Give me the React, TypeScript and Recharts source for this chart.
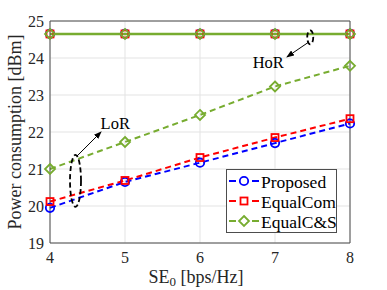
import React from 'react';
import {
  LineChart,
  Line,
  XAxis,
  YAxis,
  CartesianGrid,
  ReferenceLine,
  ReferenceDot,
} from 'recharts';

const seValues = [4, 5, 6, 7, 8];
const proposedLoR = [19.95, 20.65, 21.17, 21.7, 22.23];
const equalComLoR = [20.12, 20.69, 21.31, 21.85, 22.36];
const equalCSLoR = [21.0, 21.73, 22.46, 23.23, 23.79];
const proposedHoR = [24.65, 24.65, 24.65, 24.65, 24.65];
const equalComHoR = [24.65, 24.65, 24.65, 24.65, 24.65];
const equalCSHoR = [24.65, 24.65, 24.65, 24.65, 24.65];
const yTicks = [19, 20, 21, 22, 23, 24, 25];

const seriesNames = ['Proposed', 'EqualCom', 'EqualC&S'];

const BLUE = '#0000ff';
const RED = '#ff0000';
const GREEN = '#77ac30';
const FONT = '"Liberation Serif", "Times New Roman", serif';
const AXIS = '#4d4d4d';

// table for recharts
const chartData = seValues.map((se, i) => ({
  se,
  proposedLoR: proposedLoR[i],
  equalComLoR: equalComLoR[i],
  equalCSLoR: equalCSLoR[i],
  proposedHoR: proposedHoR[i],
  equalComHoR: equalComHoR[i],
  equalCSHoR: equalCSHoR[i],
}));

type Kind = 'circle' | 'square' | 'diamond';

const Marker = ({ cx, cy, kind, color }: { cx: number; cy: number; kind: Kind; color: string }) => {
  if (kind === 'circle') {
    return <circle cx={cx} cy={cy} r={4.2} fill="none" stroke={color} strokeWidth={1.8} />;
  }
  if (kind === 'square') {
    return <rect x={cx - 3.5} y={cy - 3.5} width={7} height={7} fill="none" stroke={color} strokeWidth={1.8} />;
  }
  return (
    <polygon
      points={`${cx},${cy - 5} ${cx + 5},${cy} ${cx},${cy + 5} ${cx - 5},${cy}`}
      fill="none"
      stroke={color}
      strokeWidth={1.8}
    />
  );
};

const makeDot = (kind: Kind, color: string) => (props: any) => (
  <Marker key={`${kind}-${props.index}-${props.cx}`} cx={props.cx} cy={props.cy} kind={kind} color={color} />
);

const ArrowShape = (props: any) => {
  const { x1, y1, x2, y2 } = props;
  return (
    <line x1={x1} y1={y1} x2={x2} y2={y2} stroke="#000" strokeWidth={1} markerEnd="url(#arrowHead)" />
  );
};

const EllipseShape = (rx: number, ry: number) => (props: any) => (
  <ellipse
    cx={props.cx}
    cy={props.cy}
    rx={rx}
    ry={ry}
    fill="none"
    stroke="#000"
    strokeWidth={1.8}
    strokeDasharray="5 3"
  />
);

const TextShape = (text: string) => (props: any) => (
  <text
    x={props.cx}
    y={props.cy}
    textAnchor="middle"
    dominantBaseline="central"
    fontFamily={FONT}
    fontSize={16.5}
    fill="#000"
  >
    {text}
  </text>
);

const legendItems: { name: string; kind: Kind; color: string }[] = [
  { name: seriesNames[0], kind: 'circle', color: BLUE },
  { name: seriesNames[1], kind: 'square', color: RED },
  { name: seriesNames[2], kind: 'diamond', color: GREEN },
];

const LegendBox = () => (
  <div
    style={{
      position: 'absolute',
      left: 226,
      top: 169,
      width: 111,
      height: 64,
      background: '#fff',
      border: `1px solid ${AXIS}`,
      boxSizing: 'border-box',
    }}
  >
    <svg width={109} height={62} style={{ display: 'block' }}>
      {legendItems.map((item, i) => {
        const y = 11 + i * 20;
        return (
          <g key={item.name}>
            <line x1={2} y1={y} x2={9} y2={y} stroke={item.color} strokeWidth={2} />
            <line x1={25} y1={y} x2={32} y2={y} stroke={item.color} strokeWidth={2} />
            <Marker cx={17} cy={y} kind={item.kind} color={item.color} />
            <text x={34} y={y + 1} dominantBaseline="central" fontFamily={FONT} fontSize={17.5} fill="#000">
              {item.name}
            </text>
          </g>
        );
      })}
    </svg>
  </div>
);

const App = () => {
  return (
    <div style={{ position: 'absolute', left: 0, top: 0, width: 387, height: 290, background: '#fff' }}>
      <LineChart
        width={387}
        height={290}
        data={chartData}
        margin={{ top: 21, right: 37, left: 0, bottom: 0 }}
      >
        <defs>
          <marker id="arrowHead" markerWidth="8" markerHeight="6" refX="7" refY="3" orient="auto" markerUnits="userSpaceOnUse">
            <path d="M0,0 L8,3 L0,6 z" fill="#000" />
          </marker>
        </defs>
        <CartesianGrid stroke="#e3e3e3" />
        <XAxis
          dataKey="se"
          type="number"
          domain={[4, 8]}
          ticks={seValues}
          height={47}
          tickLine={false}
          tickSize={0}
          tickMargin={9}
          axisLine={{ stroke: AXIS }}
          tick={{ fontFamily: FONT, fontSize: 16, fill: '#262626' }}
          label={() => (
            <text
              x={196}
              y={283}
              textAnchor="middle"
              fontFamily={FONT}
              fontSize={18}
              fill="#262626"
            >
              SE<tspan fontSize={13} dy={3}>0</tspan>
              <tspan dy={-3}>{'  [bps/Hz]'}</tspan>
            </text>
          )}
        />
        <YAxis
          type="number"
          domain={[19, 25]}
          ticks={yTicks}
          width={50}
          tickLine={false}
          tickSize={0}
          tickMargin={6}
          axisLine={{ stroke: AXIS }}
          tick={{ fontFamily: FONT, fontSize: 16, fill: '#262626' }}
          label={() => (
            <text
              x={15}
              y={132}
              transform="rotate(-90 15 132)"
              textAnchor="middle"
              dominantBaseline="central"
              fontFamily={FONT}
              fontSize={18}
              fill="#262626"
            >
              Power consumption [dBm]
            </text>
          )}
        />
        <ReferenceLine y={25} stroke={AXIS} />
        <ReferenceLine x={8} stroke={AXIS} />

        <Line dataKey="proposedHoR" stroke={BLUE} strokeWidth={2} dot={makeDot('circle', BLUE)} isAnimationActive={false} />
        <Line dataKey="equalComHoR" stroke={RED} strokeWidth={2} dot={makeDot('square', RED)} isAnimationActive={false} />
        <Line dataKey="equalCSHoR" stroke={GREEN} strokeWidth={2.5} dot={makeDot('diamond', GREEN)} isAnimationActive={false} />

        <Line dataKey="proposedLoR" name={seriesNames[0]} stroke={BLUE} strokeWidth={2} strokeDasharray="6 4" dot={makeDot('circle', BLUE)} isAnimationActive={false} />
        <Line dataKey="equalComLoR" name={seriesNames[1]} stroke={RED} strokeWidth={2} strokeDasharray="6 4" dot={makeDot('square', RED)} isAnimationActive={false} />
        <Line dataKey="equalCSLoR" name={seriesNames[2]} stroke={GREEN} strokeWidth={2} strokeDasharray="6 4" dot={makeDot('diamond', GREEN)} isAnimationActive={false} />

        {/* annotations */}
        <ReferenceDot x={4.34} y={20.68} shape={EllipseShape(5.5, 26)} />
        <ReferenceLine segment={[{ x: 4.36, y: 21.35 }, { x: 4.68, y: 22.0 }]} shape={ArrowShape} />
        <ReferenceDot x={4.87} y={22.24} shape={TextShape('LoR')} />
        <ReferenceDot x={7.47} y={24.56} shape={EllipseShape(3, 7)} />
        <ReferenceLine segment={[{ x: 7.45, y: 24.43 }, { x: 7.16, y: 24.03 }]} shape={ArrowShape} />
        <ReferenceDot x={6.91} y={23.89} shape={TextShape('HoR')} />
      </LineChart>
      <LegendBox />
    </div>
  );
};

export default App;
